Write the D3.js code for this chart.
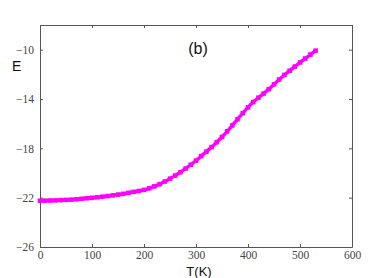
<!DOCTYPE html>
<html>
<head>
<meta charset="utf-8">
<script src="https://cdn.jsdelivr.net/npm/d3@7"></script>
<style>
  body { margin: 0; background: #fff; }
  svg { display: block; }
</style>
</head>
<body>
<div id="chart"></div>
<script>
const WIDTH = 382;
const HEIGHT = 278;
const MARGIN = { TOP: 25, BOTTOM: 31, LEFT: 40, RIGHT: 30 };

// temperature (K) and energy values
const temps = [0, 10, 20, 30, 40, 50, 60, 70, 80, 90,
  100, 110, 120, 130, 140, 150, 160, 170, 180, 190,
  200, 210, 220, 230, 240, 250, 260, 270, 280, 290,
  300, 310, 320, 330, 340, 350, 360, 370, 380, 390,
  400, 410, 420, 430, 440, 450, 460, 470, 480, 490,
  500, 510, 520, 530];
const energy = [-22.25, -22.24, -22.23, -22.22, -22.2, -22.18, -22.16, -22.13, -22.09, -22.05,
  -22.01, -21.97, -21.92, -21.87, -21.81, -21.75, -21.69, -21.61, -21.53, -21.46,
  -21.37, -21.24, -21.08, -20.9, -20.69, -20.46, -20.21, -19.94, -19.64, -19.33,
  -19.0, -18.63, -18.27, -17.9, -17.5, -17.08, -16.62, -16.14, -15.64, -15.15,
  -14.68, -14.25, -13.9, -13.56, -13.2, -12.81, -12.42, -12.05, -11.71, -11.37,
  -11.04, -10.72, -10.4, -10.08];
const xTicks = [0, 100, 200, 300, 400, 500, 600];
const yTicks = [-26, -22, -18, -14, -10];

const w = WIDTH - MARGIN.LEFT - MARGIN.RIGHT;
const h = HEIGHT - MARGIN.TOP - MARGIN.BOTTOM;

const svg = d3.select('#chart')
  .append('svg')
    .attr('width', WIDTH)
    .attr('height', HEIGHT);

const g = svg.append('g')
  .attr('transform', `translate(${MARGIN.LEFT}, ${MARGIN.TOP})`);

const xscale = d3.scaleLinear().domain([0, 600]).range([0, w]);
const yscale = d3.scaleLinear().domain([-26, -8]).range([h, 0]);

const tickFont = '"Liberation Serif", "DejaVu Serif", serif';
const axisColor = '#555';

// box with inward ticks on all four sides
const styleAxis = (sel, labels) => {
  sel.select('.domain').attr('stroke', axisColor).attr('stroke-width', 1);
  sel.selectAll('.tick line').attr('stroke', axisColor);
  sel.selectAll('.tick text')
    .attr('fill', '#444')
    .style('font-family', tickFont)
    .style('font-size', '11.5px')
    .style('display', labels ? null : 'none');
};

g.append('g')
  .attr('transform', `translate(0, ${h})`)
  .call(d3.axisBottom(xscale).tickValues(xTicks).tickSizeInner(-3).tickSizeOuter(0).tickPadding(4))
  .call(sel => styleAxis(sel, true));

g.append('g')
  .call(d3.axisTop(xscale).tickValues(xTicks).tickSizeInner(-3).tickSizeOuter(0))
  .call(sel => styleAxis(sel, false));

g.append('g')
  .call(d3.axisLeft(yscale).tickValues(yTicks).tickSizeInner(-3).tickSizeOuter(0).tickPadding(6))
  .call(sel => styleAxis(sel, true));

g.append('g')
  .attr('transform', `translate(${w}, 0)`)
  .call(d3.axisRight(yscale).tickValues(yTicks).tickSizeInner(-3).tickSizeOuter(0))
  .call(sel => styleAxis(sel, false));

const points = temps.map((t, i) => ({ t: t, e: energy[i] }));

const line = d3.line()
  .x(d => xscale(d.t))
  .y(d => yscale(d.e))
  .curve(d3.curveMonotoneX);

g.append('path')
  .datum(points)
  .attr('fill', 'none')
  .attr('stroke', '#ff00ff')
  .attr('stroke-width', 3.4)
  .attr('d', line);

g.selectAll('rect.pt')
  .data(points)
  .enter()
  .append('rect')
  .attr('class', 'pt')
  .attr('x', d => xscale(d.t) - 2.3)
  .attr('y', d => yscale(d.e) - 2.3)
  .attr('width', 4.6)
  .attr('height', 4.6)
  .attr('fill', '#ff00ff');

svg.append('text')
  .attr('x', 12)
  .attr('y', 71)
  .style('font-family', 'Arial, "Liberation Sans", sans-serif')
  .style('font-size', '14px')
  .style('fill', '#111')
  .text('E');

svg.append('text')
  .attr('x', 199)
  .attr('y', 276)
  .style('text-anchor', 'middle')
  .style('font-family', 'Arial, "Liberation Sans", sans-serif')
  .style('font-size', '13px')
  .style('fill', '#111')
  .text('T(K)');

svg.append('text')
  .attr('x', 198)
  .attr('y', 54)
  .style('text-anchor', 'middle')
  .style('font-family', 'Arial, "Liberation Sans", sans-serif')
  .style('font-size', '16px')
  .style('fill', '#111')
  .text('(b)');
</script>
</body>
</html>
